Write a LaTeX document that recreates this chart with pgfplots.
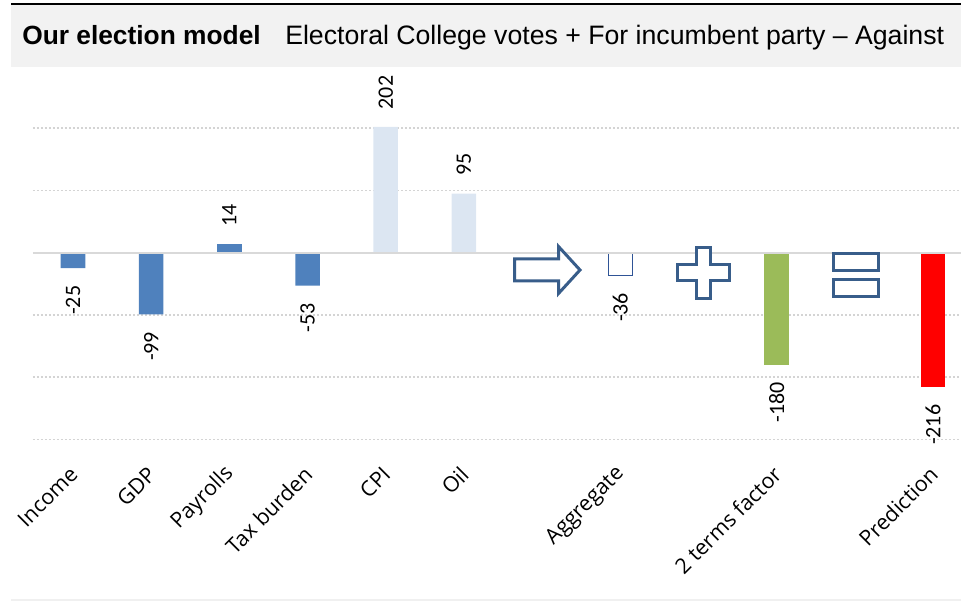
\documentclass[border=0pt]{standalone}
\usepackage{pgfplots}
\pgfplotsset{compat=1.18}
\usepackage{fontspec}
\setmainfont{Carlito}
\newfontfamily\arialf{Liberation Sans}
\newfontfamily\tickf{Open Sans}
\definecolor{barblue}{HTML}{4F81BD}
\definecolor{lightblue}{HTML}{DCE6F2}
\definecolor{bargreen}{HTML}{9BBB59}
\definecolor{shapeblue}{HTML}{385D8A}
\definecolor{aggblue}{HTML}{2F5496}
\definecolor{gridgray}{HTML}{D4D4D4}
\definecolor{zerogray}{HTML}{D9D9D9}
\definecolor{titlegray}{HTML}{F2F2F2}
\definecolor{bottomgray}{HTML}{F0F0F0}
\begin{document}
\begin{tikzpicture}
\useasboundingbox (0,0) rectangle (720.75pt,-451.5pt);
\fill[titlegray] (8.25pt,-3.5pt) rectangle (720.75pt,-50.25pt);
\draw[black, line width=1.5pt] (8.25pt,-2.75pt) -- (720.75pt,-2.75pt);
\node[anchor=base west, inner sep=0] at (16.5pt,-33.75pt) {\arialf\fontsize{19.75}{24}\selectfont\bfseries Our election model};
\node[anchor=base west, inner sep=0] at (213.75pt,-33.75pt) {\arialf\fontsize{20}{24}\selectfont Electoral College votes + For incumbent party – Against};
\draw[bottomgray, line width=1.5pt] (8.25pt,-450pt) -- (720.75pt,-450pt);
\begin{axis}[
  at={(24.75pt,-329.625pt)}, anchor=south west,
  scale only axis, width=696pt, height=256.9pt,
  xmin=-0.5116, xmax=11.358, ymin=-300, ymax=250,
  /pgf/number format/assume math mode=true,
  ytick={-300,-200,...,200}, yticklabels={},
  ymajorgrids, grid style={gridgray, line width=1.1pt, dash pattern=on 1.5pt off 1.5pt},
  axis line style={draw=none}, major tick length=0pt,
  xtick={0,1,2,3,4,5,7,9,11},
  xticklabels={Income,GDP,Payrolls,Tax burden,CPI,Oil,Aggregate,2 terms factor,Prediction},
  xticklabel style={font=\tickf\fontsize{16}{19}\selectfont, xshift=3pt, yshift=-21pt, rotate=45, anchor=east},
  clip=false,
  every axis plot/.append style={ybar, bar width=18.4pt, bar shift=0pt},
  negl/.style={nodes near coords, nodes near coords align={east}, nodes near coords style={font=\fontsize{16.5}{19}\selectfont, black, rotate=90, anchor=east, inner xsep=13pt, inner ysep=0pt}},
  posl/.style={nodes near coords, nodes near coords align={west}, nodes near coords style={font=\fontsize{16.5}{19}\selectfont, black, rotate=90, anchor=west, inner xsep=13pt, inner ysep=0pt}},
]
\addplot[fill=barblue, draw=none, negl] coordinates {(0,-25) (1,-99) (3,-53)};
\addplot[fill=barblue, draw=none, posl] coordinates {(2,14)};
\addplot[fill=lightblue, draw=none, posl] coordinates {(4,202) (5,95)};
\addplot[fill=white, draw=aggblue, line width=0.75pt, negl] coordinates {(7,-36)};
\addplot[fill=bargreen, draw=none, negl] coordinates {(9,-180)};
\addplot[fill=red, draw=none, negl] coordinates {(11,-216)};
\draw[zerogray, line width=1.5pt] (axis cs:-0.5116,0) -- (axis cs:11.358,0);
\end{axis}
% operator shapes
\draw[shapeblue, line width=2.25pt, fill=white, line join=miter]
  (385.875pt,-194.25pt) -- (418.875pt,-194.25pt) -- (418.875pt,-184.875pt) -- (435pt,-202.5pt)
  -- (418.875pt,-220.125pt) -- (418.875pt,-210.75pt) -- (385.875pt,-210.75pt) -- cycle;
\draw[shapeblue, line width=2.25pt, fill=white]
  (522.375pt,-185.625pt) -- (532.875pt,-185.625pt) -- (532.875pt,-198.6pt) -- (547.125pt,-198.6pt)
  -- (547.125pt,-210.6pt) -- (532.875pt,-210.6pt) -- (532.875pt,-223.875pt) -- (522.375pt,-223.875pt)
  -- (522.375pt,-210.6pt) -- (508.125pt,-210.6pt) -- (508.125pt,-198.6pt) -- (522.375pt,-198.6pt) -- cycle;
\draw[shapeblue, line width=2.25pt, fill=white] (625.125pt,-190.125pt) rectangle (658.875pt,-202.875pt);
\draw[shapeblue, line width=2.25pt, fill=white] (625.125pt,-209.625pt) rectangle (658.875pt,-222.375pt);
\end{tikzpicture}
\end{document}
